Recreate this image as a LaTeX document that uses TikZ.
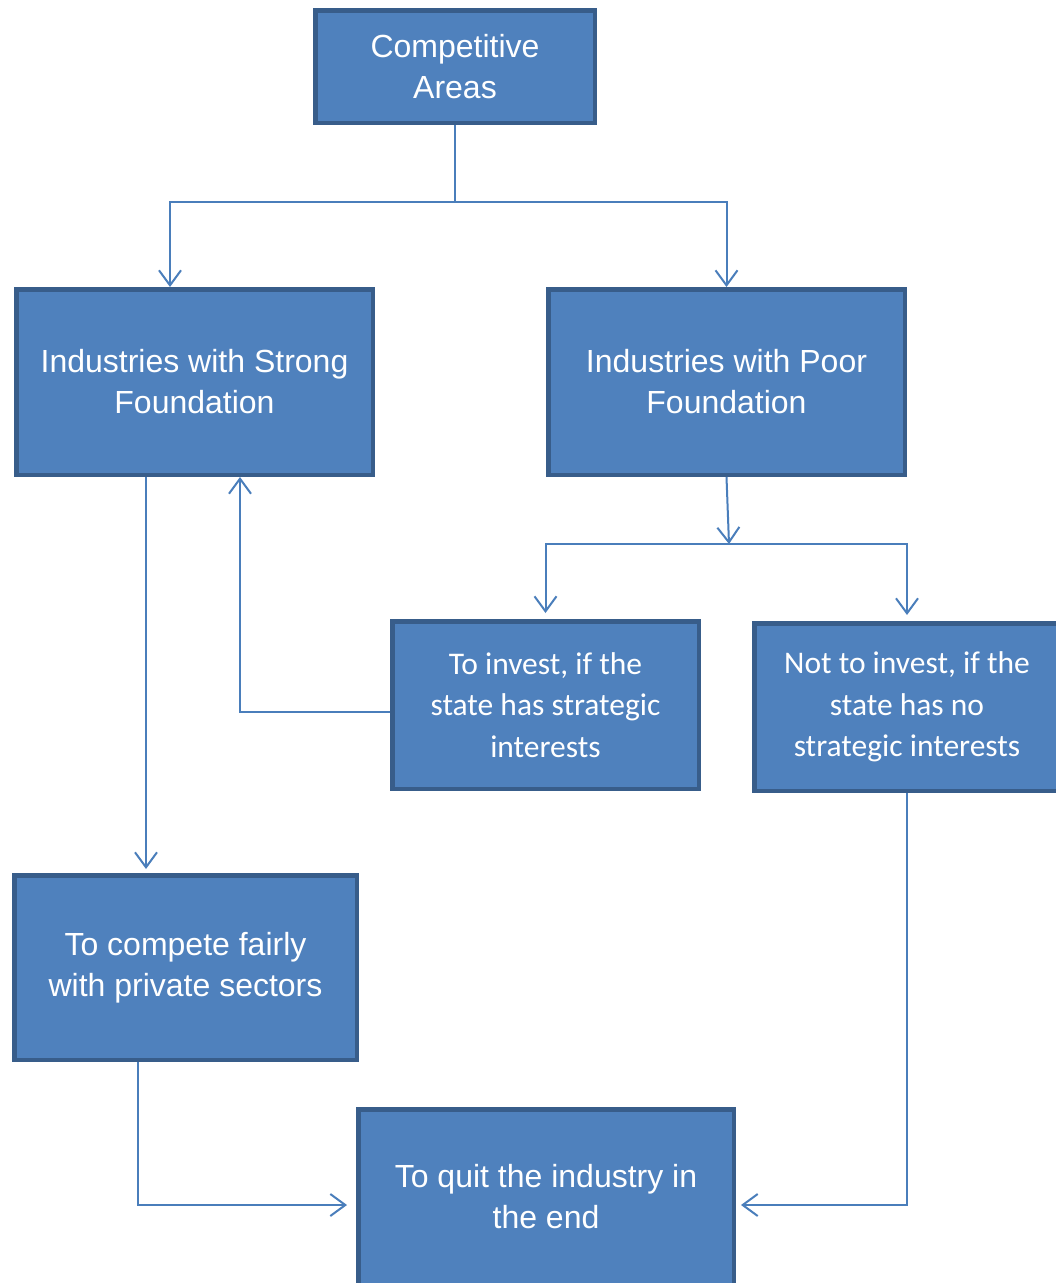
\documentclass[tikz,border=0pt]{standalone}
\usepackage{fontspec}
\setmainfont{Liberation Sans}
\newfontfamily\calfont{Carlito}
\usetikzlibrary{arrows.meta}

\begin{document}
\begin{tikzpicture}[x=1pt,y=-1pt,
    box/.style={draw=boxline,fill=boxfill,line width=4.5pt,inner sep=0pt,
        text=white,align=center,font=\fontsize{32}{41}\selectfont},
    calbox/.style={box,font=\calfont\fontsize{31.5}{41.5}\selectfont},
    conn/.style={draw=connline,line width=2pt},
    >={Straight Barb[length=15pt,width=22pt]}]
% Define colours
\definecolor{boxfill}{RGB}{79,129,189}
\definecolor{boxline}{RGB}{56,93,138}
\definecolor{connline}{RGB}{74,126,187}

\useasboundingbox (0,0) rectangle (1056,1283);

% Draw boxes
\node[box,minimum width=279.5pt,minimum height=112.5pt] (comp) at (455,66.5) {Competitive\\Areas};
\node[box,minimum width=356.5pt,minimum height=185.5pt] (strong) at (194.5,382) {Industries with Strong\\Foundation};
\node[box,minimum width=356.5pt,minimum height=185.5pt] (poor) at (726.5,382) {Industries with Poor\\Foundation};
\node[calbox,minimum width=306.5pt,minimum height=167.5pt] (invest) at (545.5,705) {To invest, if the\\state has strategic\\interests};
\node[calbox,minimum width=305.5pt,minimum height=167.5pt] (noinv) at (907,707) {Not to invest, if the\\state has no\\strategic interests};
\node[box,minimum width=342.5pt,minimum height=184.5pt] (compete) at (185.5,967.5) {To compete fairly\\with private sectors};
\node[box,minimum width=375.5pt,minimum height=175.5pt] (quit) at (546,1197) {To quit the industry in\\the end};

% Draw connections
\coordinate (split1) at (455,202);
\coordinate (split2) at (729,544);
\draw[conn] (comp.south) -- (split1);
\draw[conn,->] (split1) -| ([xshift=-24.5pt]strong.north);
\draw[conn,->] (split1) -| (poor.north);
\draw[conn,->] (poor.south) -- (split2);
\draw[conn,->,shorten >=6pt] (split2) -| (invest.north);
\draw[conn,->,shorten >=6pt] (split2) -| (noinv.north);
\draw[conn,->] ([yshift=-7pt]invest.west) -| ([xshift=45.5pt]strong.south);
\draw[conn,->,shorten >=4pt] ([xshift=-48.5pt]strong.south) -- ([xshift=-39.5pt]compete.north);
\draw[conn,->,shorten >=9pt] ([xshift=-47.5pt]compete.south) |- ([yshift=-8pt]quit.west);
\draw[conn,->,shorten >=5pt] (noinv.south) |- ([yshift=-8pt]quit.east);
\end{tikzpicture}
\end{document}
